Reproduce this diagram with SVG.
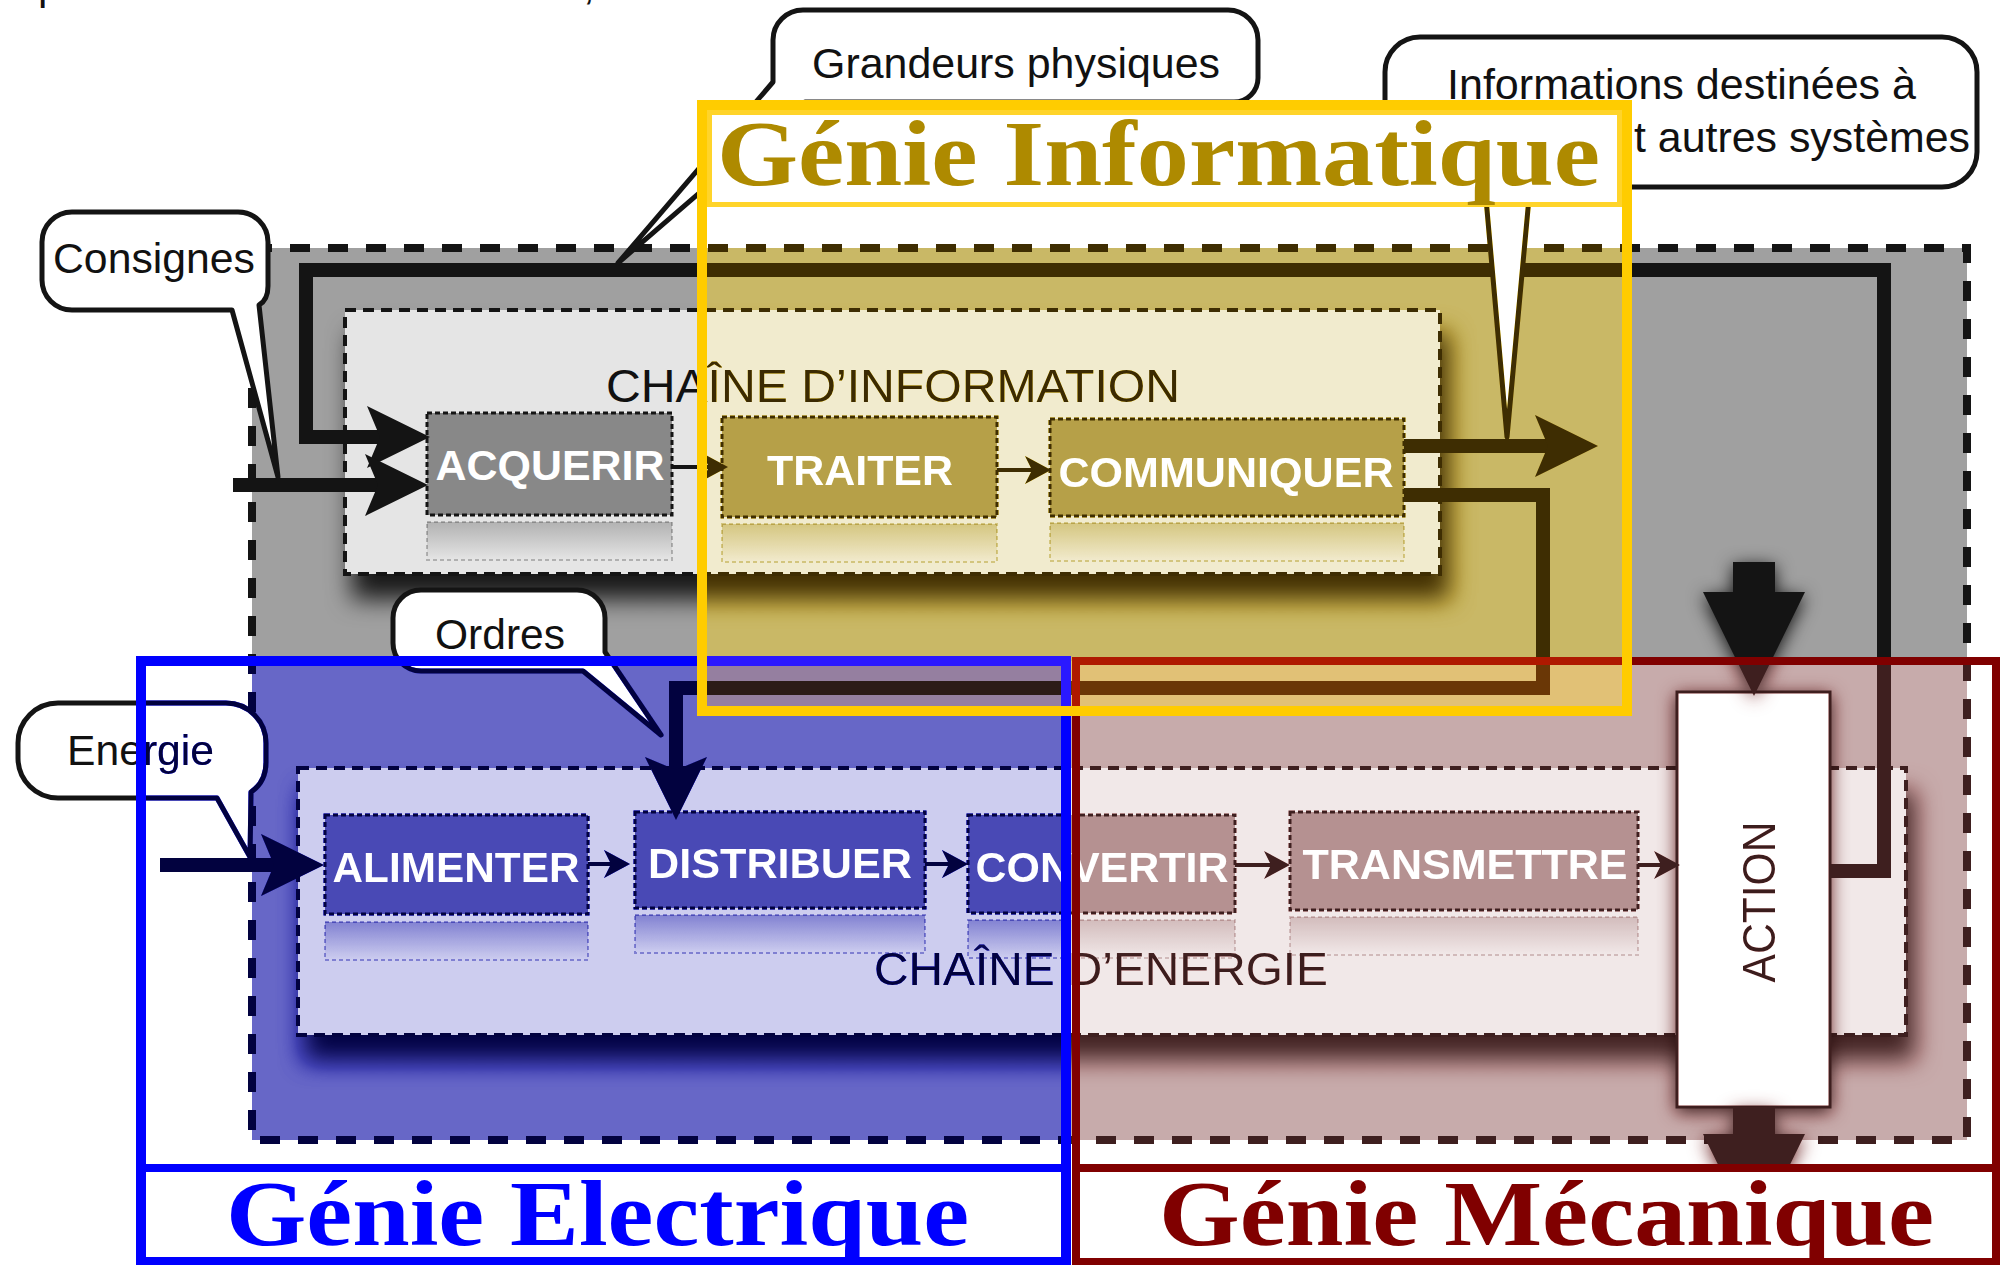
<svg xmlns="http://www.w3.org/2000/svg" xmlns:xlink="http://www.w3.org/1999/xlink" width="2000" height="1265" viewBox="0 0 2000 1265">
<defs>
<style>
.lbl{font-family:"Liberation Sans",Arial,sans-serif;font-weight:bold;font-size:42px;fill:#fff;text-anchor:middle}
.call{fill:#fff;stroke:#141414;stroke-width:5;stroke-linejoin:round}
.ctext{font-family:"Liberation Sans",Arial,sans-serif;font-size:42px;fill:#111}
.box{fill:#888;stroke:#141414;stroke-width:3;stroke-dasharray:5 3}
.refl{fill:url(#reflGrad);stroke:#141414;stroke-opacity:.25;stroke-width:2;stroke-dasharray:4 3}
.chain{fill:#e5e5e5;stroke:#141414;stroke-width:4;stroke-dasharray:11 7}
.chaintxt{font-family:"Liberation Sans",Arial,sans-serif;font-size:47px;fill:#111}
.thick{fill:none;stroke:#141414;stroke-width:14;stroke-linejoin:miter;marker-end:url(#bigHead)}
.thin{fill:none;stroke:#141414;stroke-width:4;marker-end:url(#smallHead)}
.title{font-family:"Liberation Serif","Times New Roman",serif;font-weight:bold;font-size:94px}
</style>
<marker id="bigHead" markerUnits="userSpaceOnUse" viewBox="0 0 63 62" markerWidth="63" markerHeight="62" refX="13" refY="31" orient="auto"><path d="M63,31 L0,0 L13,31 L0,62 Z" fill="#141414"/></marker>
<marker id="smallHead" markerUnits="userSpaceOnUse" viewBox="0 0 26 28" markerWidth="26" markerHeight="28" refX="7" refY="14" orient="auto"><path d="M26,14 L0,0 L7,14 L0,28 Z" fill="#141414"/></marker>
<linearGradient id="reflGrad" x1="0" y1="0" x2="0" y2="1"><stop offset="0" stop-color="#888" stop-opacity=".55"/><stop offset="1" stop-color="#888" stop-opacity="0"/></linearGradient>
<filter id="shadow" x="-10%" y="-20%" width="125%" height="160%" color-interpolation-filters="sRGB"><feDropShadow dx="8" dy="24" stdDeviation="12" flood-color="#000" flood-opacity="0.85"/></filter>
<filter id="glow" x="-50%" y="-30%" width="200%" height="160%" color-interpolation-filters="sRGB"><feDropShadow dx="0" dy="4" stdDeviation="9" flood-color="#000" flood-opacity="0.9"/></filter>
<filter id="tintY" filterUnits="userSpaceOnUse" x="0" y="0" width="2000" height="1265" color-interpolation-filters="sRGB"><feComponentTransfer>
<feFuncR type="table" tableValues="0.165 0.269 0.374 0.478 0.582 0.687 0.774 0.837 0.894 0.950 1"/>
<feFuncG type="table" tableValues="0.099 0.198 0.297 0.396 0.495 0.595 0.700 0.781 0.852 0.923 1"/>
<feFuncB type="table" tableValues="0 0.013 0.070 0.128 0.186 0.244 0.360 0.509 0.660 0.811 1"/>
</feComponentTransfer></filter>
<filter id="tintB" filterUnits="userSpaceOnUse" x="0" y="0" width="2000" height="1265" color-interpolation-filters="sRGB"><feComponentTransfer>
<feFuncR type="table" tableValues="0 0.013 0.071 0.130 0.189 0.247 0.367 0.515 0.663 0.810 1"/>
<feFuncG type="table" tableValues="0 0.013 0.071 0.130 0.189 0.247 0.367 0.515 0.663 0.810 1"/>
<feFuncB type="table" tableValues="0.170 0.273 0.377 0.480 0.584 0.687 0.766 0.826 0.884 0.942 1"/>
</feComponentTransfer></filter>
<filter id="tintR" filterUnits="userSpaceOnUse" x="0" y="0" width="2000" height="1265" color-interpolation-filters="sRGB"><feComponentTransfer>
<feFuncR type="table" tableValues="0.165 0.269 0.374 0.478 0.582 0.687 0.766 0.829 0.889 0.950 1"/>
<feFuncG type="table" tableValues="0.050 0.146 0.243 0.340 0.436 0.533 0.645 0.742 0.829 0.915 1"/>
<feFuncB type="table" tableValues="0.050 0.146 0.243 0.340 0.436 0.533 0.645 0.742 0.829 0.915 1"/>
</feComponentTransfer></filter>
<clipPath id="clipY"><rect x="702" y="105" width="925" height="606"/></clipPath>
<clipPath id="clipB"><rect x="141" y="661" width="925" height="604"/></clipPath>
<clipPath id="clipR"><rect x="1071" y="661" width="929" height="604"/></clipPath>
</defs>

<g id="scene">
<g id="base">
<rect x="0" y="0" width="2000" height="1265" fill="#fff"/>
<text class="ctext" x="38" y="-1" font-size="48">p</text>
<text class="ctext" x="583" y="-1" font-size="48">,</text>

<g id="systeme">
<rect x="252" y="248" width="1715" height="892" fill="#a0a0a0" stroke="#141414" stroke-width="8" stroke-dasharray="20 18"/>
</g>

<g id="chaine-information">
<rect class="chain" x="345" y="310" width="1095" height="264" filter="url(#shadow)"/>
<text class="chaintxt" x="606" y="402" font-size="46" textLength="574" lengthAdjust="spacingAndGlyphs">CHAÎNE D’INFORMATION</text>
</g>
<g id="chaine-energie">
<rect class="chain" x="298" y="768" width="1608" height="267" filter="url(#shadow)"/>
<text class="chaintxt" x="874" y="985" textLength="454" lengthAdjust="spacingAndGlyphs">CHAÎNE D’ENERGIE</text>
</g>

<g id="acquerir"><rect class="box" x="427" y="413" width="245" height="102"/><rect class="refl" x="427" y="522" width="245" height="38"/><text class="lbl" x="550" y="480" textLength="229" lengthAdjust="spacingAndGlyphs">ACQUERIR</text></g>
<g id="traiter"><rect class="box" x="722" y="417" width="275" height="100"/><rect class="refl" x="722" y="524" width="275" height="38"/><text class="lbl" x="860" y="485" textLength="186" lengthAdjust="spacingAndGlyphs">TRAITER</text></g>
<g id="communiquer"><rect class="box" x="1050" y="419" width="354" height="97"/><rect class="refl" x="1050" y="523" width="354" height="38"/><text class="lbl" x="1226" y="487" textLength="335" lengthAdjust="spacingAndGlyphs">COMMUNIQUER</text></g>
<g id="alimenter"><rect class="box" x="325" y="815" width="263" height="99"/><rect class="refl" x="325" y="922" width="263" height="38"/><text class="lbl" x="456" y="882" textLength="247" lengthAdjust="spacingAndGlyphs">ALIMENTER</text></g>
<g id="distribuer"><rect class="box" x="635" y="812" width="290" height="96"/><rect class="refl" x="635" y="915" width="290" height="38"/><text class="lbl" x="780" y="878" textLength="264" lengthAdjust="spacingAndGlyphs">DISTRIBUER</text></g>
<g id="convertir"><rect class="box" x="968" y="815" width="267" height="98"/><rect class="refl" x="968" y="920" width="267" height="38"/><text class="lbl" x="1102" y="882" textLength="253" lengthAdjust="spacingAndGlyphs">CONVERTIR</text></g>
<g id="transmettre"><rect class="box" x="1290" y="812" width="348" height="98"/><rect class="refl" x="1290" y="917" width="348" height="38"/><text class="lbl" x="1465" y="879" textLength="325" lengthAdjust="spacingAndGlyphs">TRANSMETTRE</text></g>

<g id="action">
<rect x="1677" y="692" width="153" height="415" fill="#fff" stroke="#141414" stroke-width="3" filter="url(#glow)"/>
<text transform="translate(1775,902) rotate(-90)" x="0" y="0" font-family="Liberation Sans, Arial, sans-serif" font-size="46" fill="#111" text-anchor="middle" textLength="161" lengthAdjust="spacingAndGlyphs">ACTION</text>
</g>

<g id="connecteurs">
<path class="thick" d="M1830,871 H1884 V270 H306 V437 H380"/>
<path class="thick" d="M233,485 H378"/>
<path class="thick" d="M160,865 H274"/>
<path class="thick" d="M1404,446 H1548"/>
<path class="thick" d="M1404,495 H1543 V688 H676 V770"/>
<path class="thin" d="M672,467 H709"/>
<path class="thin" d="M997,470 H1032"/>
<path class="thin" d="M588,864 H611"/>
<path class="thin" d="M925,864 H949"/>
<path class="thin" d="M1235,865 H1271"/>
<path class="thin" d="M1638,865 H1661"/>
<path d="M1733,562 H1775 V592 H1805 L1754,696 L1703,592 H1733 Z" fill="#141414" filter="url(#glow)"/>
<path d="M1733,1107 H1775 V1134 H1805 L1754,1238 L1703,1134 H1733 Z" fill="#141414" filter="url(#glow)"/>
</g>

<g id="callout-grandeurs"><path class="call" d="M773,82 V40 A30,30 0 0 1 803,10 H1228 A30,30 0 0 1 1258,40 V78 A24,24 0 0 1 1234,102 H805 L618,263 Z"/><text class="ctext" x="812" y="78" textLength="408" lengthAdjust="spacingAndGlyphs">Grandeurs physiques</text></g>
<g id="callout-informations"><path class="call" d="M1420,37 H1942 A35,35 0 0 1 1977,72 V152 A35,35 0 0 1 1942,187 H1530 L1507,437 L1485,187 H1420 A35,35 0 0 1 1385,152 V72 A35,35 0 0 1 1420,37 Z"/><text class="ctext" x="1447" y="99" textLength="469" lengthAdjust="spacingAndGlyphs">Informations destinées à</text><text class="ctext" x="1634" y="152" textLength="336" lengthAdjust="spacingAndGlyphs">t autres systèmes</text></g>
<g id="callout-consignes"><path class="call" d="M72,212 H238 A30,30 0 0 1 268,242 V286 Q268,300 259,305 L278,477 L232,310 H72 A30,30 0 0 1 42,280 V242 A30,30 0 0 1 72,212 Z"/><text class="ctext" x="53" y="273" textLength="202" lengthAdjust="spacingAndGlyphs">Consignes</text></g>
<g id="callout-ordres"><path class="call" d="M421,590 H577 A28,28 0 0 1 605,618 V652 L661,735 L583,671 H421 A28,28 0 0 1 393,643 V618 A28,28 0 0 1 421,590 Z"/><text class="ctext" x="435" y="649" textLength="130" lengthAdjust="spacingAndGlyphs">Ordres</text></g>
<g id="callout-energie"><path class="call" d="M58,703 H226 A40,40 0 0 1 266,743 V762 Q266,782 251,792 L250,857 L217,798 H58 A40,40 0 0 1 18,758 V743 A40,40 0 0 1 58,703 Z"/><text class="ctext" x="67" y="765" textLength="147" lengthAdjust="spacingAndGlyphs">Energie</text></g>
</g>

<use xlink:href="#base" href="#base" clip-path="url(#clipB)" filter="url(#tintB)"/>
<use xlink:href="#base" href="#base" clip-path="url(#clipR)" filter="url(#tintR)"/>

<g id="genie-electrique">
<rect x="146" y="1168" width="915" height="97" fill="#fff"/>
<text class="title" x="226" y="1245" fill="#0000ff" textLength="743" lengthAdjust="spacingAndGlyphs">Génie Electrique</text>
<rect x="141" y="661" width="925" height="601" fill="none" stroke="#0000ff" stroke-width="10"/>
<line x1="141" y1="1168" x2="1066" y2="1168" stroke="#0000ff" stroke-width="8"/>
</g>
<g id="genie-mecanique">
<rect x="1080" y="1168" width="912" height="97" fill="#fff"/>
<text class="title" x="1159" y="1245" fill="#800000" textLength="775" lengthAdjust="spacingAndGlyphs">Génie Mécanique</text>
<rect x="1076" y="661" width="920" height="601" fill="none" stroke="#800000" stroke-width="8"/>
<line x1="1076" y1="1168" x2="1996" y2="1168" stroke="#800000" stroke-width="8"/>
</g>
</g>

<use xlink:href="#scene" href="#scene" clip-path="url(#clipY)" filter="url(#tintY)"/>

<g id="genie-informatique">
<rect x="709.5" y="112.5" width="910" height="92" fill="#fff" stroke="#FFD42A" stroke-width="5"/>
<rect x="702" y="105" width="925" height="606" fill="none" stroke="#FFCC00" stroke-width="10"/>
<text class="title" x="717" y="185" fill="#AE8A00" textLength="883" lengthAdjust="spacingAndGlyphs">Génie Informatique</text>
</g>
</svg>
